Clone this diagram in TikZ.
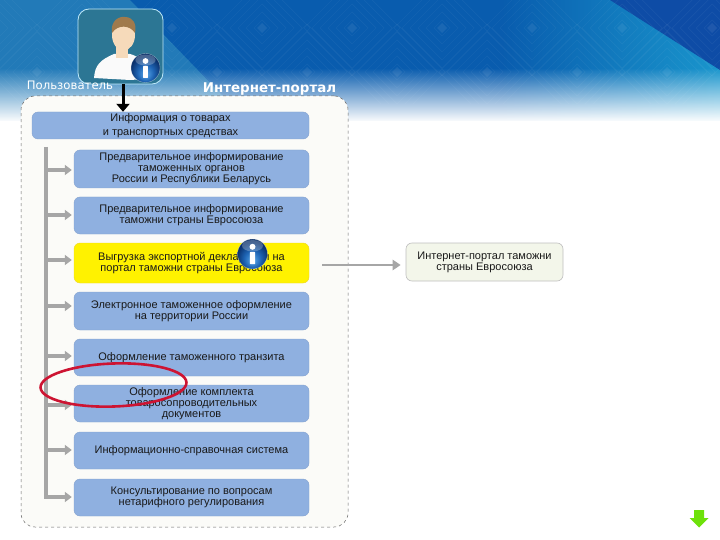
\documentclass[tikz,border=0pt]{standalone}
\usepackage{fontspec}
\setmainfont{Liberation Sans}
\newfontfamily\labelfont{DejaVu Sans}
\usetikzlibrary{arrows.meta,fadings}
\definecolor{boxblue}{RGB}{143,176,224}
\definecolor{pagefill}{RGB}{251,251,248}
\definecolor{bargray}{RGB}{166,166,166}
\definecolor{iconteal}{RGB}{44,118,148}
\definecolor{skin}{RGB}{246,218,186}
\definecolor{hair}{RGB}{160,122,76}
\definecolor{redring}{RGB}{205,20,50}
\definecolor{greenarrow}{RGB}{110,225,10}
\definecolor{darkcorner}{RGB}{14,76,166}
\definecolor{softbox}{RGB}{243,246,234}
\definecolor{bandblue}{RGB}{9,92,174}
\definecolor{bandleft}{RGB}{34,122,184}
\definecolor{bandteal}{RGB}{26,150,205}
\definecolor{ia}{RGB}{90,170,235}\definecolor{ib}{RGB}{30,100,180}\definecolor{ic}{RGB}{10,50,110}\definecolor{id}{RGB}{5,30,70}
\pgfdeclareradialshading{infoball}{\pgfpoint{0bp}{-12bp}}{
 color(0bp)=(ia); color(14bp)=(ib); color(26bp)=(ic); color(50bp)=(id)}
\tikzfading[name=fadetoeast,left color=transparent!100,right color=transparent!0]
\tikzfading[name=fadewhite,top color=transparent!100,bottom color=transparent!0]
\tikzset{
 x=1pt,y=-1pt,
 itembox/.style={draw=boxblue!92!black,line width=.4pt,fill=boxblue,rounded corners=6pt,minimum width=235pt,inner sep=0pt,align=center,
   font=\fontsize{11}{11}\selectfont,text=black!90},
 barline/.style={draw=bargray,line width=3.6pt},
 baritem/.style={draw=bargray,line width=3.6pt,-{Triangle[length=7pt,width=10pt]}},
 diamondline/.style={draw=white,opacity=.045,line width=.7pt},
 infodot/.style={fill=white,draw=none},
}
\newcommand{\diam}[2]{%
 \foreach \r in {8,16,...,48}{\draw[diamondline] (#1-\r,#2)--(#1,#2-\r)--(#1+\r,#2)--(#1,#2+\r)--cycle;}%
 \fill[white,opacity=.07] (#1-5,#2)--(#1,#2-5)--(#1+5,#2)--(#1,#2+5)--cycle;}
\newcommand{\infoicon}[3]{%
 \shade[shading=infoball] (#1,#2) circle (#3);
 \draw[white,opacity=.45,line width=.4pt] (#1,#2) circle (#3);
 \fill[white,opacity=.25] (#1,#2-#3*.55) ellipse ({#3*.7} and {#3*.38});
 \fill[infodot] (#1,#2-#3*.48) circle ({#3*.2});
 \fill[infodot,rounded corners=.5pt] (#1-#3*.17,#2-#3*.14) rectangle (#1+#3*.17,#2+#3*.68);}
\begin{document}
\begin{tikzpicture}
\useasboundingbox (0,0) rectangle (720,540);
\fill[white] (0,0) rectangle (720,540);
% top band: solid regions
\fill[bandblue] (0,0) rectangle (720,124);
\fill[bandleft] (0,0)--(130,0)--(250,124)--(0,124)--cycle;
\fill[bandteal,path fading=fadetoeast] (500,0) rectangle (720,124);
\fill[darkcorner] (610,0)--(720,0)--(720,70)--cycle;
\begin{scope}\clip (0,0) rectangle (720,104);
 \foreach \cx in {-8,82,172,262,352,442,532,622,712}{\diam{\cx}{28}}
 \foreach \cx in {37,127,217,307,397,487,577,667}{\diam{\cx}{72}}
\end{scope}
% fade of the band to white
\fill[white,path fading=fadewhite] (0,68) rectangle (720,122);
\fill[white] (0,121.5) rectangle (720,126);
% container
\node[draw=black!60,dashed,line width=.5pt,fill=pagefill,rounded corners=14pt,minimum width=327pt,minimum height=431pt,inner sep=0pt] (portal) at (184.5,311.5) {};
% user icon
\node[draw=white!75!cyan,line width=.8pt,fill=iconteal,rounded corners=11pt,minimum width=85pt,minimum height=75pt,inner sep=0pt] (user) at (120.5,46.5) {};
\fill[white!96!gray] (94,78) .. controls (95,65) and (100,60) .. (114,54) -- (130,54) .. controls (145,58) and (146,70) .. (146,79) -- (130,80) -- cycle;
\fill[skin] (116,44) rectangle (128,58);
\fill[skin] (123.5,35) ellipse (11.5 and 15.5);
\fill[hair] (112,33) .. controls (110,20) and (120,16) .. (125,17) .. controls (133,17) and (137,24) .. (135,33) .. controls (130,25) and (118,24) .. cycle;
\infoicon{145.5}{68}{14.5}
\node[text=white,font=\labelfont\fontsize{11.7}{12}\selectfont,inner sep=0pt] (userlabel) at (70,85) {Пользователь};
\node[text=white,font=\labelfont\bfseries\fontsize{13.4}{14}\selectfont,inner sep=0pt] (portallabel) at (269.5,89) {Интернет-портал};
% boxes
\node[itembox,minimum width=277pt,minimum height=27pt] (info) at (170.5,125.5) {Информация о товарах\\[3pt]и транспортных средствах};
\node[itembox,minimum height=38pt] (b1) at (191.5,169) {Предварительное информирование\\таможенных органов\\России  и Республики Беларусь};
\node[itembox,minimum height=37pt] (b2) at (191.5,215.5) {Предварительное информирование\\таможни  страны Евросоюза};
\node[itembox,draw=yellow!70!brown,fill=yellow,minimum height=40pt] (b3) at (191.5,263) {Выгрузка экспортной декларации на\\портал таможни страны Евросоюза};
\node[itembox,minimum height=38pt] (b4) at (191.5,311) {Электронное таможенное оформление\\на территории России};
\node[itembox,minimum height=37pt] (b5) at (191.5,357.5) {Оформление таможенного транзита};
\node[itembox,minimum height=37pt] (b6) at (191.5,403.5) {Оформление комплекта\\товаросопроводительных\\документов};
\node[itembox,minimum height=37pt] (b7) at (191.5,450.5) {Информационно-справочная система};
\node[itembox,minimum height=37pt] (b8) at (191.5,497.5) {Консультирование по вопросам\\нетарифного регулирования};
\node[draw=black!25,line width=.6pt,fill=softbox,rounded corners=6pt,minimum width=157pt,minimum height=38pt,inner sep=0pt,align=center,font=\fontsize{11}{11}\selectfont,text=black!90] (euportal) at (484.5,262) {Интернет-портал таможни\\страны Евросоюза};
% connectors
\coordinate (userout) at (123,84);
\draw[black,line width=3pt,-{Triangle[length=8pt,width=13pt]}] (userout) -- (userout |- info.north);
\coordinate (trunktop) at (46,147);
\coordinate (trunkend) at (46,498.8);
\draw[barline] (trunktop) -- (trunkend);
\foreach \b/\y in {b1/170,b2/215,b3/260,b4/306,b5/356,b6/405,b7/450,b8/497}{
  \coordinate (p\b) at (46,\y);
  \draw[baritem,shorten >=2pt] (p\b) -- (p\b -| \b.west);}
\coordinate (exportstart) at (322,265);
\draw[bargray,line width=2.4pt,shorten >=5pt,-{Triangle[length=8pt,width=10pt]}] (exportstart) -- (exportstart -| euportal.west);
% highlights
\infoicon{252.5}{254}{15}
\draw[redring,line width=2.6pt,rotate around={2:(113.5,385)}] (113.5,385) ellipse (73 and 21.5);
% green arrow
\fill[greenarrow] (694,510)--(704,510)--(704,518)--(708.5,518)--(699,527.5)--(689.5,518)--(694,518)--cycle;
\end{tikzpicture}
\end{document}
